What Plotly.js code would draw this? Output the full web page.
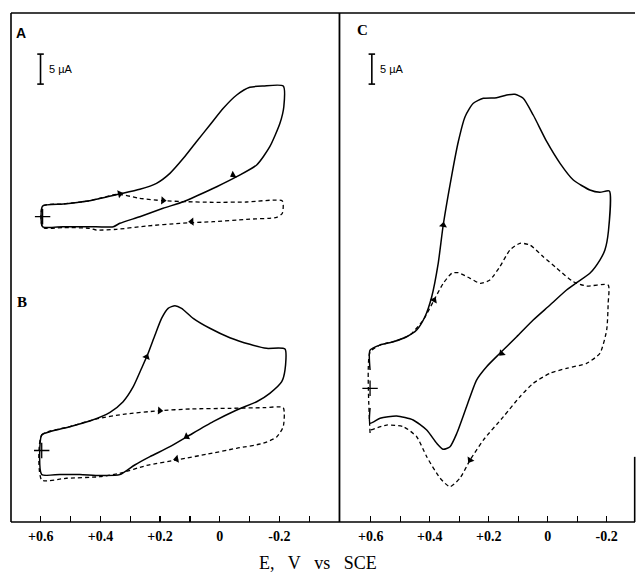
<!DOCTYPE html>
<html><head><meta charset="utf-8">
<script src="https://cdn.plot.ly/plotly-3.0.1.min.js"></script>
<style>html,body{margin:0;padding:0;background:#fff}#chart{width:636px;height:580px}</style>
</head><body><div id="chart"></div>
<script>
// ---- axis ticks (potential E, V vs SCE) ----
const tickVals = [0.6, 0.5, 0.4, 0.3, 0.2, 0.1, 0, -0.1, -0.2, -0.3];
const tickText = ['+0.6', '', '+0.4', '', '+0.2', '', '0', '', '-0.2', ''];

// ---- Panel A (current in µA, zero at the "+" mark) ----
const aSolidE = [0.594,0.525,0.436,0.341,0.268,0.212,0.167,0.122,0.078,0.033,-0.012,-0.057,-0.101,-0.146,-0.213,-0.215,-0.202,-0.168,-0.124,-0.057,0.010,0.078,0.122,0.190,0.268,0.335,0.357,0.436,0.525,0.594,0.594];
const aSolidI = [1.78,2.12,2.67,3.73,4.57,5.57,7.23,9.73,12.5,15.28,18.07,20.28,21.57,21.78,21.78,18.33,15.57,11.67,8.62,6.67,5.0,3.45,2.5,1.4,0,-1.1,-1.67,-1.67,-1.67,-1.67,1.78];
const aDashE = [0.341,0.268,0.190,0.111,0.022,-0.090,-0.210,-0.210,-0.191,-0.090,0.022,0.134,0.245,0.346,0.413,0.436,0.525,0.594,0.594,0.525,0.436,0.341];
const aDashI = [3.73,3.07,2.67,2.5,2.4,2.45,2.62,0.57,-0.1,-0.43,-0.83,-1.1,-1.55,-2.1,-2.22,-1.93,-1.8,-1.8,1.78,2.12,2.67,3.73];
const aArrowE = [0.335, 0.190, -0.045, 0.094];
const aArrowI = [3.8, 2.7, 6.95, -0.83];
const aArrowAngle = [77, 94, 241, 267];

// ---- Panel B ----
const bSolidE = [0.597,0.597,0.570,0.503,0.436,0.368,0.324,0.290,0.262,0.240,0.217,0.195,0.173,0.150,0.128,0.089,0.033,-0.034,-0.101,-0.157,-0.219,-0.219,-0.208,-0.168,-0.124,-0.057,0.022,0.100,0.167,0.234,0.285,0.335,0.402,0.469,0.536,0.597];
const bSolidI = [-4.0,2.58,3.13,3.97,4.92,6.37,8.13,10.63,13.7,16.2,19.25,22.03,23.7,24.13,23.7,22.03,20.37,18.8,17.7,17.03,16.92,13.42,11.47,9.53,8.13,6.75,4.8,2.58,0.63,-1.03,-2.42,-4.03,-4.17,-4.0,-4.0,-4.0];
const bDashE = [0.597,0.597,0.503,0.413,0.324,0.201,0.100,-0.034,-0.146,-0.213,-0.213,-0.191,-0.146,-0.057,0.044,0.134,0.245,0.335,0.402,0.514,0.597];
const bDashI = [-4.92,2.58,3.97,5.25,6.03,6.63,6.92,7.03,7.13,7.13,3.97,2.25,1.2,0.37,-0.63,-1.47,-2.5,-3.8,-4.37,-4.63,-4.92];
const bArrowE = [0.245, 0.201, 0.111, 0.145];
const bArrowI = [15.6, 6.63, 2.3, -1.42];
const bArrowAngle = [22, 94, 240, 259];

// ---- Panel C ----
const cSolidE = [0.602,0.602,0.568,0.523,0.478,0.444,0.416,0.393,0.371,0.354,0.325,0.303,0.280,0.252,0.218,0.173,0.139,0.111,0.083,0.049,0.003,-0.042,-0.087,-0.143,-0.177,-0.209,-0.206,-0.194,-0.177,-0.143,-0.098,-0.064,-0.008,0.049,0.105,0.162,0.207,0.241,0.275,0.308,0.331,0.354,0.376,0.410,0.456,0.512,0.568,0.602,0.602];
const cSolidI = [3.05,6.38,7.22,7.77,8.6,9.72,11.93,15.27,20.83,27.22,35.55,41.1,45.27,47.5,48.33,48.43,48.88,49.0,48.33,45.55,41.1,37.5,34.72,33.05,32.67,32.88,26.22,23.05,21.38,19.17,17.6,16.38,13.88,11.38,8.6,5.83,3.6,1.38,-3.07,-7.5,-9.73,-10.17,-9.17,-6.95,-5.28,-4.62,-5.0,-5.83,-3.28];
const cDashE = [0.602,0.602,0.568,0.523,0.467,0.422,0.385,0.354,0.325,0.303,0.263,0.229,0.196,0.162,0.128,0.094,0.060,0.015,-0.031,-0.087,-0.132,-0.205,-0.205,-0.200,-0.177,-0.132,-0.064,-0.008,0.049,0.094,0.150,0.218,0.263,0.297,0.331,0.365,0.410,0.444,0.489,0.546,0.600];
const cDashI = [-7.45,6.05,7.22,7.77,8.88,11.38,14.72,17.5,19.17,19.27,18.33,17.5,18.05,20.27,23.05,24.17,23.88,21.93,20.0,17.77,17.05,17.22,14.17,9.72,5.83,4.17,3.33,2.5,0.83,-1.4,-4.73,-8.62,-11.95,-14.95,-16.4,-14.95,-11.4,-8.07,-6.4,-6.12,-6.95];
const cArrowE = [0.354, 0.385, 0.156, 0.263];
const cArrowI = [27.2, 14.7, 5.83, -11.95];
const cArrowAngle = [9, 29, 225, 212];

// ---- scale bars (5 µA) and zero marks ----
const scaleUA = 5;
const scaleA = {E: 0.601, top: 27.1};
const scaleC = {E: 0.596, top: 55.7};
const zeroMarkE = {A: 0.594, B: 0.597, C: 0.602};

function scaleBarTrace(sb, xa, ya, halfW) {
  const b = sb.top - scaleUA;
  return {x: [sb.E - halfW, sb.E + halfW, null, sb.E, sb.E, null, sb.E - halfW, sb.E + halfW],
          y: [sb.top, sb.top, null, sb.top, b, null, b, b],
          xaxis: xa, yaxis: ya, mode: 'lines', line: {color: '#000', width: 1.6},
          hoverinfo: 'skip', connectgaps: false};
}
function curve(E, I, xa, ya, dash) {
  return {x: E, y: I, xaxis: xa, yaxis: ya, mode: 'lines',
          line: {color: '#000', width: dash ? 1.3 : 1.5, dash: dash ? '4px,3px' : 'solid', shape: 'spline', smoothing: 0.6}};
}
function arrows(E, I, ang, xa, ya) {
  return {x: E, y: I, xaxis: xa, yaxis: ya, mode: 'markers',
          marker: {symbol: 'triangle-up', size: 7, color: '#000', angle: ang}};
}
function zeroMark(E, xa, ya) {
  return {x: [E], y: [0], xaxis: xa, yaxis: ya, mode: 'markers',
          marker: {symbol: 'cross-thin', size: 11, line: {color: '#000', width: 1.3}}};
}

const traces = [
  curve(aSolidE, aSolidI, 'x', 'y', false),
  curve(aDashE, aDashI, 'x', 'y', true),
  arrows(aArrowE, aArrowI, aArrowAngle, 'x', 'y'),
  zeroMark(zeroMarkE.A, 'x', 'y'),
  scaleBarTrace(scaleA, 'x', 'y', 0.011),
  curve(bSolidE, bSolidI, 'x', 'y2', false),
  curve(bDashE, bDashI, 'x', 'y2', true),
  arrows(bArrowE, bArrowI, bArrowAngle, 'x', 'y2'),
  zeroMark(zeroMarkE.B, 'x', 'y2'),
  curve(cSolidE, cSolidI, 'x2', 'y3', false),
  curve(cDashE, cDashI, 'x2', 'y3', true),
  arrows(cArrowE, cArrowI, cArrowAngle, 'x2', 'y3'),
  zeroMark(zeroMarkE.C, 'x2', 'y3'),
  scaleBarTrace(scaleC, 'x2', 'y3', 0.011)
];

const tickFont = {family: 'Liberation Serif, Times New Roman, serif', size: 14, color: '#000', weight: 'bold'};
const xCommon = {tickmode: 'array', tickvals: tickVals, ticktext: tickText, ticks: 'inside', ticklen: 6,
  tickwidth: 1.2, tickcolor: '#000', showgrid: false, zeroline: false, showline: false,
  tickfont: tickFont, ticklabelstandoff: 4, fixedrange: true};
const yCommon = {visible: false, showgrid: false, zeroline: false, fixedrange: true};

const layout = {
  width: 636, height: 580,
  margin: {l: 11, r: 1, t: 13, b: 58},
  paper_bgcolor: '#fff', plot_bgcolor: '#fff',
  showlegend: false,
  xaxis: Object.assign({}, xCommon, {domain: [0, 0.5256], range: [0.7, -0.4], anchor: 'y'}),
  xaxis2: Object.assign({}, xCommon, {domain: [0.5272, 1], range: [0.704, -0.296], anchor: 'y3'}),
  yaxis: Object.assign({}, yCommon, {domain: [0, 1], range: [-50.88, 33.95], anchor: 'x'}),
  yaxis2: Object.assign({}, yCommon, {domain: [0, 1], range: [-11.92, 72.92], anchor: 'x', overlaying: 'y'}),
  yaxis3: Object.assign({}, yCommon, {domain: [0, 1], range: [-22.28, 62.55], anchor: 'x2'}),
  shapes: [
    {type: 'line', xref: 'paper', yref: 'paper', x0: 0, x1: 1, y0: 1, y1: 1, line: {color: '#000', width: 1.6}},
    {type: 'line', xref: 'paper', yref: 'paper', x0: 0, x1: 1, y0: 0, y1: 0, line: {color: '#000', width: 1.6}},
    {type: 'line', xref: 'paper', yref: 'paper', x0: 0, x1: 0, y0: 0, y1: 1, line: {color: '#000', width: 1.6}},
    {type: 'line', xref: 'paper', yref: 'paper', x0: 0.5264, x1: 0.5264, y0: 0, y1: 1, line: {color: '#000', width: 1.8}},
    {type: 'line', xref: 'paper', yref: 'paper', x0: 0.9995, x1: 0.9995, y0: 0, y1: 0.128, line: {color: '#000', width: 1.6}}
  ],
  annotations: [
    {text: 'A', xref: 'paper', yref: 'paper', x: 0.005, y: 0.961, xanchor: 'left', yanchor: 'middle', showarrow: false,
     font: {family: 'Liberation Sans, Arial, sans-serif', size: 14, color: '#000', weight: 'bold'}},
    {text: 'B', xref: 'paper', yref: 'paper', x: 0.007, y: 0.432, xanchor: 'left', yanchor: 'middle', showarrow: false,
     font: {family: 'Liberation Serif, Times New Roman, serif', size: 15, color: '#000', weight: 'bold'}},
    {text: 'C', xref: 'paper', yref: 'paper', x: 0.551, y: 0.966, xanchor: 'left', yanchor: 'middle', showarrow: false,
     font: {family: 'Liberation Serif, Times New Roman, serif', size: 15, color: '#000', weight: 'bold'}},
    {text: '5 µA', xref: 'x', yref: 'y', x: 0.58, y: scaleA.top - scaleUA / 2, xanchor: 'left', yanchor: 'middle', showarrow: false,
     font: {family: 'Liberation Sans, Arial, sans-serif', size: 11, color: '#000'}},
    {text: '5 µA', xref: 'x2', yref: 'y3', x: 0.575, y: scaleC.top - scaleUA / 2, xanchor: 'left', yanchor: 'middle', showarrow: false,
     font: {family: 'Liberation Sans, Arial, sans-serif', size: 11, color: '#000'}},
    {text: 'E,\u00a0\u00a0 V\u00a0\u00a0 vs\u00a0\u00a0 SCE', xref: 'paper', yref: 'paper', x: 0.492, y: -0.0805, xanchor: 'center', yanchor: 'middle', showarrow: false,
     font: {family: 'Liberation Serif, Times New Roman, serif', size: 18, color: '#000'}}
  ]
};

Plotly.newPlot('chart', traces, layout, {staticPlot: true, displayModeBar: false});
</script>
</body></html>
